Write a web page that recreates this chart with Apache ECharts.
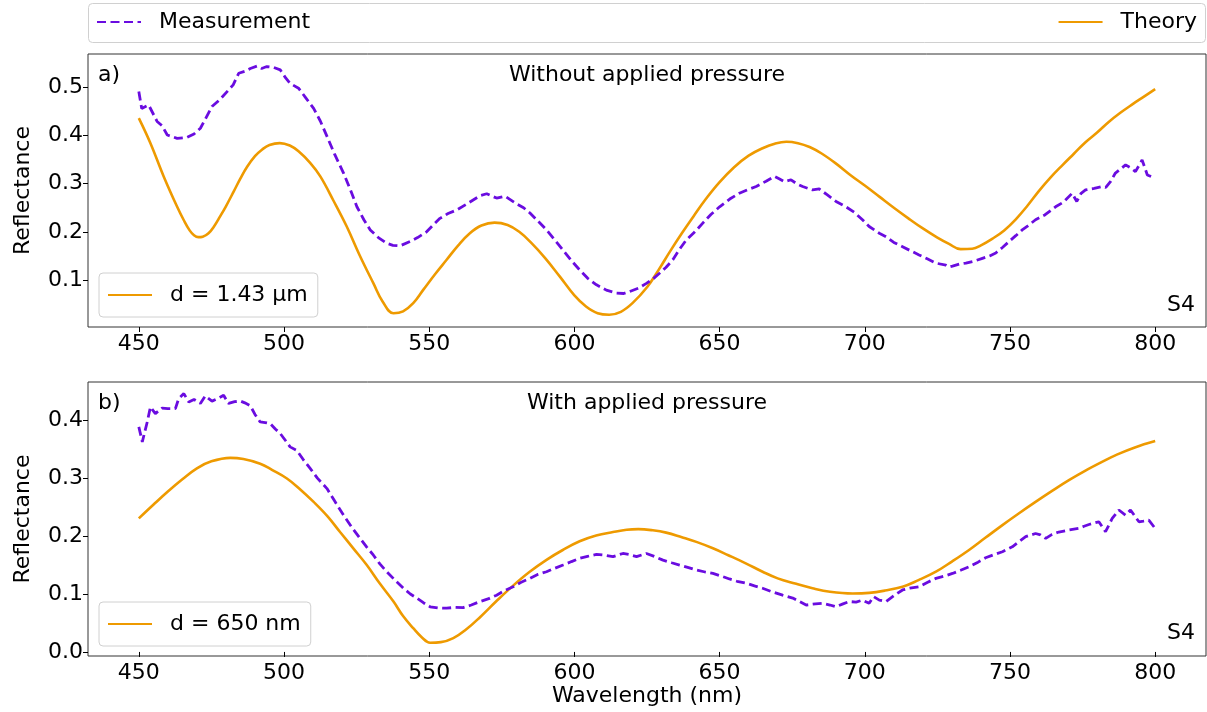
<!DOCTYPE html>
<html>
<head>
<meta charset="utf-8">
<script src="https://cdn.jsdelivr.net/npm/echarts@6/dist/echarts.min.js"></script>
<style>
html,body{margin:0;padding:0;background:#fff;}
#chart{width:1207px;height:712px;}
</style>
</head>
<body>
<div id="chart"></div>
<script>
// ---- data (wavelength nm, reflectance) ----
const xTicks = [450, 500, 550, 600, 650, 700, 750, 800];
const yTicksTop = [0.1, 0.2, 0.3, 0.4, 0.5];
const yTicksBottom = [0.0, 0.1, 0.2, 0.3, 0.4];

const topMeasurement = [[450,0.491],[451,0.456],[453.4,0.463],[456.3,0.429],[458,0.42],[459.8,0.401],[463.2,0.394],[466.6,0.396],[469,0.403],[471.2,0.415],[473,0.435],[475.2,0.46],[478,0.475],[480.4,0.491],[482.5,0.505],[484.4,0.529],[486.5,0.533],[488.4,0.539],[490.7,0.544],[492.3,0.539],[494.1,0.543],[496.5,0.541],[498.7,0.536],[500.5,0.52],[502.1,0.508],[505,0.498],[507.5,0.478],[510.2,0.456],[512.5,0.43],[514.8,0.398],[517.5,0.36],[520.5,0.322],[523,0.285],[525.1,0.252],[527.5,0.225],[529.7,0.204],[532.5,0.188],[535.4,0.176],[537.5,0.172],[540,0.171],[543.4,0.18],[546,0.188],[549.1,0.2],[551.5,0.215],[553.7,0.228],[556.5,0.238],[559.4,0.245],[563,0.258],[567.5,0.275],[569.8,0.279],[573.2,0.27],[576.1,0.274],[580.1,0.258],[582.5,0.25],[584.7,0.239],[587.5,0.222],[590.4,0.204],[593,0.185],[596.1,0.162],[599,0.14],[601.8,0.121],[604.5,0.104],[607.6,0.09],[611,0.079],[614.5,0.073],[617,0.072],[619,0.076],[622,0.083],[624.8,0.093],[627,0.102],[629.3,0.114],[631.5,0.126],[633.9,0.142],[636,0.162],[638.5,0.183],[641.5,0.2],[644.2,0.218],[647,0.236],[650,0.252],[653.5,0.268],[656.8,0.28],[659.5,0.287],[662.6,0.294],[666,0.305],[668.9,0.315],[670.5,0.31],[672.3,0.304],[674.6,0.308],[676.5,0.3],[678.6,0.294],[682,0.287],[684.3,0.289],[687,0.277],[690.1,0.263],[693.5,0.252],[696.5,0.24],[699.2,0.225],[701.5,0.211],[705,0.197],[707.3,0.19],[710,0.178],[713,0.169],[716,0.16],[718.7,0.152],[721.5,0.144],[724.5,0.135],[727.9,0.131],[729,0.127],[730.2,0.129],[732.5,0.133],[734.8,0.135],[737.5,0.139],[740.5,0.145],[743,0.15],[745.1,0.156],[747.5,0.168],[749.7,0.18],[752,0.192],[754.2,0.204],[756.5,0.214],[758.8,0.225],[762,0.235],[765.7,0.252],[768.5,0.262],[771.4,0.28],[773,0.263],[774.5,0.28],[776,0.287],[779,0.29],[781.7,0.294],[783,0.292],[784.6,0.304],[786.3,0.322],[788,0.33],[789.8,0.339],[791.5,0.333],[793.2,0.325],[795.5,0.349],[797.3,0.318],[800,0.311]];

const topTheory = [[450,0.436],[454,0.384],[458.6,0.3145],[463.2,0.252],[465.5,0.224],[467.5,0.203],[469,0.193],[470.5,0.189],[472,0.19],[474,0.197],[476,0.212],[478,0.232],[480,0.253],[482.7,0.284],[485,0.311],[487.3,0.335],[490,0.357],[492.5,0.371],[495,0.380],[498.5,0.384],[502,0.379],[505,0.367],[509,0.343],[512.5,0.315],[517,0.265],[521.6,0.211],[526,0.152],[530.8,0.093],[534,0.055],[537.7,0.031],[541,0.035],[544.5,0.052],[548,0.08],[552,0.112],[556,0.142],[560,0.172],[564,0.197],[568,0.213],[572.5,0.219],[577,0.214],[581,0.2],[585,0.178],[590,0.145],[595,0.107],[600,0.068],[604,0.045],[608,0.031],[612,0.028],[616,0.034],[620,0.052],[625,0.085],[629,0.121],[633,0.16],[637,0.197],[641,0.232],[645,0.266],[650,0.303],[655,0.334],[660,0.358],[665,0.374],[669,0.383],[673,0.387],[677,0.384],[681,0.376],[685,0.363],[690,0.342],[695,0.318],[700,0.296],[705,0.273],[710,0.25],[715,0.228],[720,0.207],[725,0.188],[729,0.175],[733,0.164],[737,0.165],[740,0.172],[744,0.186],[748,0.203],[752,0.226],[756,0.254],[760,0.285],[764,0.313],[768,0.338],[772,0.362],[776,0.386],[780,0.406],[784,0.428],[788,0.447],[792,0.464],[796,0.48],[800,0.496]];

const bottomMeasurement = [[450,0.3885],[451.2,0.3626],[452.9,0.397],[454,0.423],[455.7,0.4115],[458,0.421],[460,0.42],[462.6,0.42],[463.7,0.437],[465.5,0.446],[467.2,0.4315],[469,0.436],[471.2,0.429],[472.9,0.442],[475.2,0.433],[477,0.437],[479.2,0.443],[480.9,0.429],[483,0.432],[485,0.433],[486.5,0.43],[488.4,0.425],[490,0.41],[491.8,0.397],[493.5,0.396],[495.3,0.394],[497,0.385],[498.7,0.377],[500.5,0.365],[502.1,0.354],[504.4,0.348],[506.5,0.333],[509,0.317],[511.5,0.3],[514.8,0.282],[517.5,0.26],[520.5,0.236],[523.5,0.214],[526.2,0.196],[528.5,0.181],[530.8,0.167],[533,0.152],[535.4,0.1385],[538,0.125],[541.1,0.11],[543.5,0.1],[545.7,0.093],[548,0.085],[550.3,0.078],[553,0.076],[556,0.0755],[559,0.077],[561.7,0.0765],[564.5,0.081],[567.5,0.087],[570.5,0.092],[573.2,0.098],[576,0.106],[578.9,0.1125],[581.5,0.12],[584.7,0.127],[587.5,0.134],[590.4,0.1385],[593,0.144],[596.1,0.15],[599,0.156],[601.8,0.1615],[604.5,0.165],[607.6,0.1685],[610.5,0.167],[613.3,0.1645],[616.7,0.17],[619,0.168],[621.4,0.1645],[624.8,0.17],[627.5,0.165],[630.5,0.1585],[633.5,0.154],[636.2,0.15],[639,0.146],[642,0.1415],[645,0.138],[647.7,0.1355],[650.5,0.131],[653.4,0.126],[656,0.122],[659.2,0.1185],[662,0.114],[664.8,0.11],[668,0.104],[671.7,0.098],[675.2,0.093],[677.5,0.087],[679.8,0.081],[683,0.083],[685.5,0.084],[688,0.081],[690.1,0.078],[692.5,0.083],[694.7,0.087],[697,0.086],[699.2,0.0895],[701.5,0.084],[703,0.0955],[705,0.0895],[707.3,0.087],[710,0.097],[713,0.107],[715.5,0.11],[718.7,0.1125],[721.5,0.12],[724.5,0.127],[727.5,0.131],[730.2,0.1355],[733,0.141],[735.9,0.147],[739,0.155],[741.6,0.1625],[744.5,0.168],[747.4,0.173],[750.8,0.1815],[753,0.19],[755.4,0.199],[758.8,0.2045],[760.5,0.202],[762.3,0.196],[764.5,0.203],[766.8,0.207],[770.3,0.2105],[773.7,0.2133],[775.5,0.217],[777.2,0.22],[780.6,0.2247],[782.9,0.2075],[785.2,0.2305],[787.5,0.245],[789.8,0.236],[791.5,0.245],[794.4,0.2247],[796,0.226],[797.8,0.2276],[800,0.2133]];

const bottomTheory = [[450,0.2305],[455,0.254],[459.8,0.276],[465,0.298],[470,0.317],[475,0.329],[481.5,0.335],[486,0.333],[491.8,0.325],[496,0.314],[501,0.2995],[505.5,0.281],[510.2,0.259],[515,0.234],[519.3,0.207],[524,0.178],[528.5,0.15],[533,0.118],[537.7,0.087],[541,0.062],[544.5,0.041],[547.5,0.025],[550.3,0.016],[554,0.017],[558.3,0.024],[563,0.04],[567.5,0.06],[573,0.087],[578.9,0.1145],[584.5,0.138],[590.4,0.159],[596,0.176],[601.8,0.191],[607.5,0.201],[613.3,0.207],[618,0.211],[622,0.212],[627,0.21],[631.6,0.206],[637,0.198],[642,0.19],[647.7,0.179],[653,0.167],[659,0.153],[664.8,0.1385],[670,0.127],[676,0.118],[682,0.11],[688,0.104],[695.8,0.101],[701.5,0.102],[707,0.106],[713,0.1125],[718.5,0.124],[724.5,0.1385],[730,0.156],[735.9,0.176],[741.5,0.197],[747.4,0.219],[753,0.239],[758.8,0.259],[764.5,0.278],[770.3,0.2965],[776,0.313],[781.7,0.328],[787,0.341],[793,0.353],[800,0.364]];

const labels = {
  titleTop: 'Without applied pressure',
  titleBottom: 'With applied pressure',
  panelTop: 'a)', panelBottom: 'b)', sample: 'S4',
  fitTop: 'd = 1.43 µm', fitBottom: 'd = 650 nm',
  measName: 'Measurement', theoryName: 'Theory',
  yName: 'Reflectance', xName: 'Wavelength (nm)'
};

// ---- styles ----
const FONT = 'DejaVu Sans';
const PURPLE = '#6a0ce0';
const ORANGE = '#ee9a00';
const txt = {fontFamily: FONT, fontSize: 22, color: '#000', fontWeight: 'normal'};

function xAxisCfg(gi, withName) {
  return {
    type: 'value', gridIndex: gi, min: 432.5, max: 817.5,
    axisLine: {show: false},
    axisTick: {show: true, length: 5, customValues: xTicks, lineStyle: {color: '#000', width: 1}},
    axisLabel: {customValues: xTicks, margin: 6, ...txt},
    splitLine: {show: false},
    name: withName ? labels.xName : '',
    nameLocation: 'middle', nameGap: 26, nameTextStyle: txt
  };
}
function yAxisCfg(gi, ticks, mn, mx) {
  return {
    type: 'value', gridIndex: gi, min: mn, max: mx,
    axisLine: {show: false},
    axisTick: {show: true, length: 5, customValues: ticks, lineStyle: {color: '#000', width: 1}},
    axisLabel: {customValues: ticks, margin: 5, formatter: v => v.toFixed(1), ...txt},
    splitLine: {show: false},
    name: labels.yName, nameLocation: 'middle', nameGap: 54, nameTextStyle: txt
  };
}

const measStyle = {color: PURPLE, width: 2.8, type: [9, 4.5]};
const theoStyle = {color: ORANGE, width: 2.6, type: 'solid'};
const legendItemStyle = {opacity: 0};

const innerLegend = (top, text) => ({
  data: [labels.theoryName], left: 99, top: top, orient: 'horizontal',
  itemWidth: 44, itemHeight: 14, padding: [9, 10, 9, 8],
  borderColor: '#d0d0d0', borderWidth: 1, borderRadius: 4, backgroundColor: '#fff',
  formatter: () => text, itemStyle: legendItemStyle,
  textStyle: {...txt, padding: [0, 0, 0, 13], lineHeight: 26},
  selectedMode: false
});

const titleCfg = (text, left, top, align) => ({
  text: text, left: left, top: top, padding: 0, textAlign: align || 'left',
  textStyle: txt
});

const chart = echarts.init(document.getElementById('chart'), null, {renderer: 'canvas'});
chart.setOption({
  animation: false,
  backgroundColor: '#fff',
  grid: [
    {left: 88, right: 1, top: 54, height: 273, show: true, borderColor: '#333', borderWidth: 1, backgroundColor: 'transparent'},
    {left: 88, right: 1, top: 382, height: 274, show: true, borderColor: '#333', borderWidth: 1, backgroundColor: 'transparent'}
  ],
  xAxis: [xAxisCfg(0, false), xAxisCfg(1, true)],
  yAxis: [yAxisCfg(0, yTicksTop, 0.0025, 0.569), yAxisCfg(1, yTicksBottom, -0.007, 0.466)],
  graphic: [{
    type: 'rect', left: 88, top: 3, z: -1,
    shape: {width: 1117, height: 39, r: 4},
    style: {fill: '#fff', stroke: '#d0d0d0', lineWidth: 1}
  }],
  legend: [
    {data: [labels.measName], left: 88, top: 5, itemWidth: 44, itemHeight: 14, padding: [4, 8, 4, 8],
     itemStyle: legendItemStyle,
     textStyle: {...txt, padding: [0, 0, 0, 13], lineHeight: 26}, selectedMode: false},
    {data: [labels.theoryName], right: 2, top: 5, itemWidth: 44, itemHeight: 14, padding: [4, 8, 4, 8],
     itemStyle: legendItemStyle,
     textStyle: {...txt, padding: [0, 0, 0, 13], lineHeight: 26}, selectedMode: false},
    innerLegend(273, labels.fitTop),
    innerLegend(602, labels.fitBottom)
  ],
  title: [
    titleCfg(labels.titleTop, 647, 64, 'center'),
    titleCfg(labels.titleBottom, 647, 392, 'center'),
    titleCfg(labels.panelTop, 98, 64),
    titleCfg(labels.panelBottom, 98, 392),
    titleCfg(labels.sample, 1167, 294),
    titleCfg(labels.sample, 1167, 622)
  ],
  series: [
    {name: labels.measName, type: 'line', xAxisIndex: 0, yAxisIndex: 0, data: topMeasurement,
     symbol: 'none', lineStyle: measStyle, itemStyle: {color: PURPLE}, z: 3},
    {name: labels.theoryName, type: 'line', xAxisIndex: 0, yAxisIndex: 0, data: topTheory,
     symbol: 'none', smooth: 0.4, lineStyle: theoStyle, itemStyle: {color: ORANGE}, z: 2},
    {name: labels.measName, type: 'line', xAxisIndex: 1, yAxisIndex: 1, data: bottomMeasurement,
     symbol: 'none', lineStyle: measStyle, itemStyle: {color: PURPLE}, z: 3},
    {name: labels.theoryName, type: 'line', xAxisIndex: 1, yAxisIndex: 1, data: bottomTheory,
     symbol: 'none', smooth: 0.4, lineStyle: theoStyle, itemStyle: {color: ORANGE}, z: 2}
  ]
});
</script>
</body>
</html>
